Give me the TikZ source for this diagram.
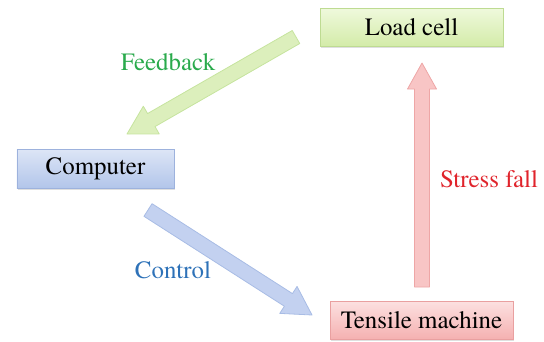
\documentclass[tikz,border=0pt]{standalone}
\usepackage{fontspec}
\newfontfamily\tnrfont{texgyretermes-regular.otf}
\usetikzlibrary{calc,shadows}
\definecolor{gfillT}{HTML}{EFF9DC}
\definecolor{gfillB}{HTML}{D3EBA8}
\definecolor{gline}{HTML}{BEDB92}
\definecolor{bfillT}{HTML}{DCE5F6}
\definecolor{bfillB}{HTML}{B2C5EA}
\definecolor{bline}{HTML}{9DB2DD}
\definecolor{rfillT}{HTML}{FCE0E0}
\definecolor{rfillB}{HTML}{F5B0B0}
\definecolor{rline}{HTML}{E9A0A0}
\definecolor{garrow}{HTML}{DCEFBC}
\definecolor{garrowl}{HTML}{C6E49E}
\definecolor{barrow}{HTML}{C3D1F0}
\definecolor{barrowl}{HTML}{A8BCE5}
\definecolor{rarrow}{HTML}{F8C5C5}
\definecolor{rarrowl}{HTML}{EEA6A6}
\definecolor{gtext}{HTML}{2AAA4C}
\definecolor{btext}{HTML}{2E72B8}
\definecolor{rtext}{HTML}{E0242C}
% #1 tail, #2 tip, #3 half shaft width, #4 half head width, #5 head length, #6 style
\newcommand\blockarrow[6]{%
  \coordinate (#1h) at ($(#2)!#5!(#1)$);
  \draw[#6] ($(#1)!#3!90:(#2)$) -- ($(#1h)!#3!90:(#2)$) -- ($(#1h)!#4!90:(#2)$)
    -- (#2) -- ($(#1h)!#4!-90:(#2)$) -- ($(#1h)!#3!-90:(#2)$) -- ($(#1)!#3!-90:(#2)$) -- cycle;}
\begin{document}
\begin{tikzpicture}[x=1bp,y=-1bp,
  box/.style={minimum height=38.5bp, inner sep=0pt, line width=0.8bp,
    font=\tnrfont\fontsize{25}{29}\selectfont, text=black,
    drop shadow={opacity=0.25, shadow xshift=0.8bp, shadow yshift=-1.5bp}},
  lbl/.style={font=\tnrfont\fontsize{25}{29}\selectfont, inner sep=0pt},
  ga/.style={fill=garrow, draw=garrowl, line width=0.8bp, line join=round},
  ba/.style={fill=barrow, draw=barrowl, line width=0.8bp, line join=round},
  ra/.style={fill=rarrow, draw=rarrowl, line width=0.8bp, line join=round}]
\useasboundingbox (0,0) rectangle (544,341);
% arrows
\coordinate (fbt) at (296,37);
\coordinate (fbe) at (127,134);
\coordinate (ctt) at (148,210);
\coordinate (cte) at (312,315);
\coordinate (sft) at (422,287);
\coordinate (sfe) at (422,63);
\blockarrow{fbt}{fbe}{7.5bp}{16bp}{28bp}{ga}
\blockarrow{ctt}{cte}{7.5bp}{16bp}{28bp}{ba}
\blockarrow{sft}{sfe}{7.5bp}{14.5bp}{26bp}{ra}
% boxes
\node[box, minimum width=183bp, top color=gfillT, bottom color=gfillB, draw=gline]
  (load) at (411.5,27.5) {Load cell};
\node[box, minimum width=157bp, top color=bfillT, bottom color=bfillB, draw=bline]
  (comp) at (95.5,169) {Computer};
\node[box, minimum width=183bp, top color=rfillT, bottom color=rfillB, draw=rline]
  (tens) at (421.5,320.5) {Tensile machine};
% labels
\node[lbl, text=gtext] (fbl) at (168,62) {Feedback};
\node[lbl, text=btext] (ctl) at (173,270) {Control};
\node[lbl, text=rtext] (sfl) at (489,179) {Stress fall};
\end{tikzpicture}
\end{document}
